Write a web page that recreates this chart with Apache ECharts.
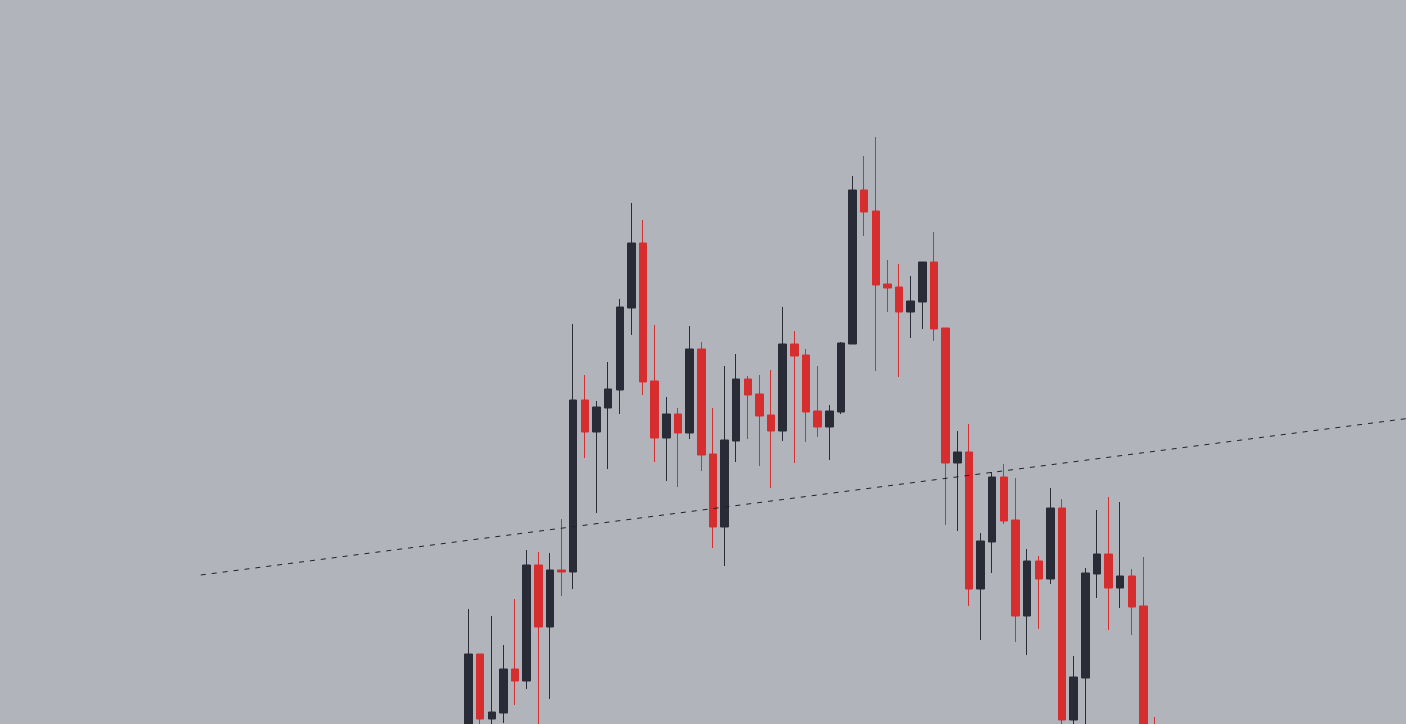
<!DOCTYPE html>
<html>
<head>
<meta charset="utf-8">
<script src="https://cdn.jsdelivr.net/npm/echarts@6/dist/echarts.min.js"></script>
<style>
  html, body { margin: 0; padding: 0; background: #b2b4bc; }
  #chart { width: 1406px; height: 724px; }
</style>
</head>
<body>
<div id="chart"></div>
<script>
// Candle values (arbitrary price units)
const firstCandleSlot = 39;   // index on the time axis of the first visible candle
const slotCount = 122;        // number of time slots on the axis
const opens  = [964,1070,1005,1011,1055,1043,1159,1097,1154,1152,1324,1292,1316,1334,1416,1481,1343,1286,1310,1291,1375,1270,1197,1283,1345,1330,1309,1293,1380,1369,1313,1297,1312,1380,1534,1513,1440,1437,1412,1422,1462,1396,1261,1272,1135,1182,1247,1204,1108,1163,1145,1216,1004,1046,1150,1170,1136,1148,1118,934];
const closes = [1070,1005,1012,1055,1043,1159,1097,1154,1152,1324,1292,1317,1335,1417,1481,1342,1286,1310,1291,1375,1269,1197,1284,1345,1329,1308,1293,1380,1368,1312,1297,1313,1381,1534,1512,1439,1436,1412,1423,1462,1395,1261,1272,1135,1183,1247,1203,1108,1163,1145,1216,1004,1047,1151,1170,1136,1148,1117,934,894];
const lows   = [949,984,989,1001,1019,1035,979,1025,1128,1135,1266,1211,1255,1310,1389,1329,1262,1243,1237,1285,1253,1176,1158,1262,1285,1258,1236,1283,1261,1282,1287,1264,1310,1380,1488,1353,1412,1347,1386,1395,1383,1199,1193,1118,1084,1151,1200,1082,1069,1095,1140,992,986,989,1126,1094,1116,1089,924,880];
const highs  = [1115,1070,1108,1079,1125,1174,1172,1171,1205,1400,1349,1323,1362,1425,1521,1504,1399,1327,1316,1398,1382,1316,1358,1370,1348,1349,1354,1417,1393,1375,1358,1319,1382,1548,1568,1587,1464,1460,1448,1462,1492,1396,1293,1300,1191,1252,1260,1246,1175,1168,1236,1225,1068,1156,1214,1227,1222,1155,1167,1007];
// Dashed trend line: [slot index, price]
const trendSlots  = [16, 120];
const trendPrices = [1149, 1306];

const categories = [];
for (let i = 0; i < slotCount; i++) categories.push(String(i));

const source = opens.map((o, i) => [firstCandleSlot + i, o, closes[i], lows[i], highs[i]]);
const trendData = trendSlots.map((s, i) => [s, trendPrices[i]]);

const chart = echarts.init(document.getElementById('chart'), null, { renderer: 'canvas' });
const slotW = 11.638;
const gridLeft = 468.5 - (firstCandleSlot + 0.5) * slotW;
chart.setOption({
  backgroundColor: '#b2b4bc',
  animation: false,
  grid: {
    left: gridLeft, width: slotCount * slotW, top: 0, height: 724,
    containLabel: false, outerBoundsMode: 'none'
  },
  dataset: { source: source, dimensions: ['slot', 'open', 'close', 'low', 'high'] },
  xAxis: {
    type: 'category', data: categories, boundaryGap: true,
    axisLine: { show: false }, axisTick: { show: false }, axisLabel: { show: false }, splitLine: { show: false }
  },
  yAxis: {
    type: 'value', min: 1000, max: 1724, scale: true,
    axisLine: { show: false }, axisTick: { show: false }, axisLabel: { show: false }, splitLine: { show: false }
  },
  series: [
    {
      type: 'candlestick',
      encode: { x: 'slot', y: ['open', 'close', 'low', 'high'] },
      barWidth: 8,
      clip: true,
      itemStyle: {
        color: '#292c37', color0: '#d62e2e',
        borderColor: '#292c37', borderColor0: '#d62e2e', borderWidth: 1
      }
    },
    {
      type: 'line',
      data: trendData,
      showSymbol: false,
      symbol: 'none',
      silent: true,
      clip: false,
      lineStyle: { color: '#1f2229', width: 1, type: [5, 6] }
    }
  ]
});
</script>
</body>
</html>
